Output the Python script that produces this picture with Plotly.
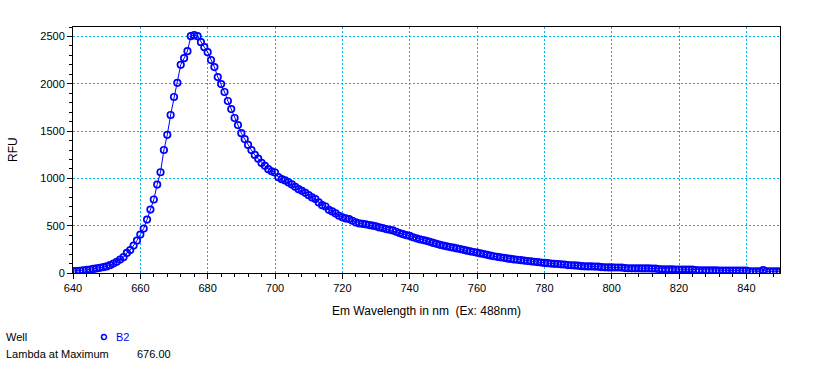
import plotly.graph_objects as go

# ---- data ----
wavelength_start = 640
wavelength_end = 850
wavelengths = list(range(wavelength_start, wavelength_end + 1))

rfu_640_676 = [20, 21, 24, 29, 33, 37, 43, 48, 55, 62,
               70, 83, 100, 118, 142, 167, 212, 242, 290, 343,
               406, 470, 565, 670, 777, 935, 1065, 1300, 1460, 1670,
               1860, 2010, 2200, 2270, 2345, 2503, 2514]
rfu_677_697 = [2503, 2440, 2387, 2334, 2250, 2176, 2071, 1997, 1913, 1818,
               1733, 1638, 1563, 1478, 1415, 1354, 1299, 1248, 1208, 1163,
               1133]
rfu_698_736 = [1097, 1075, 1062, 1013, 992, 978, 957, 936, 911, 886,
               869, 847, 823, 799, 781, 746, 717, 703, 668, 651,
               630, 605, 588, 577, 570, 552, 535, 524, 520, 514,
               507, 500, 493, 482, 475, 464, 457, 450, 436]
rfu_737_784 = [422, 410, 400, 392, 378, 366, 356, 348, 340, 330,
               318, 308, 298, 290, 282, 274, 268, 260, 253, 245,
               236, 229, 222, 215, 207, 200, 192, 184, 177, 171,
               166, 160, 154, 149, 144, 140, 136, 131, 127, 123,
               119, 115, 111, 107, 104, 100, 97, 95]
rfu_785_850 = [92, 90, 84, 82, 80, 77, 72, 71, 70, 69,
               68, 67, 62, 60, 59, 59, 58, 58, 57, 52,
               50, 49, 49, 49, 48, 48, 48, 47, 47, 42,
               39, 38, 38, 38, 37, 37, 37, 36, 36, 36,
               30, 28, 28, 27, 27, 27, 27, 26, 26, 26,
               26, 26, 26, 25, 25, 25, 18, 17, 17, 17,
               30, 18, 17, 17, 17, 17]
rfu = rfu_640_676 + rfu_677_697 + rfu_698_736 + rfu_737_784 + rfu_785_850

well_name = "B2"
lambda_max_text = "676.00"
x_title = "Em Wavelength in nm  (Ex: 488nm)"
y_title = "RFU"

# ---- layout geometry ----
W, H = 819, 391
ML, MR, MT, MB = 73, 39, 27, 118
PW, PH = W - ML - MR, H - MT - MB


def px(xp):
    return (xp - ML) / PW


def py(yp):
    return (H - MB - yp) / PH


BLUE = "#0000FF"
GRID = "#00AEEA"
FONT = "Liberation Sans, Arial, sans-serif"

fig = go.Figure()
fig.add_trace(go.Scatter(
    x=wavelengths, y=rfu, mode="lines+markers",
    line=dict(color=BLUE, width=1),
    marker=dict(symbol="circle-open", size=6.5, color=BLUE, line=dict(width=1.7, color=BLUE)),
    showlegend=False, hoverinfo="x+y",
))

axis_common = dict(
    showline=True, linecolor="black", linewidth=1, mirror=True,
    ticks="outside", ticklen=5, tickcolor="black", tickwidth=1,
    showgrid=True, gridcolor=GRID, griddash="2px,2px", gridwidth=1,
    zeroline=False, tickfont=dict(family=FONT, size=11, color="black"),
)

fig.update_xaxes(range=[640, 850], dtick=20, tick0=640,
                 minor=dict(dtick=4, ticklen=3, tickcolor="black", ticks="outside", showgrid=False),
                 **axis_common)
fig.update_yaxes(range=[0, 2600], dtick=500, tick0=0,
                 minor=dict(dtick=100, ticklen=3, tickcolor="black", ticks="outside", showgrid=False),
                 **axis_common)

annos = [
    dict(text=x_title, x=px(ML + PW / 2), y=py(311), xanchor="center", yanchor="middle",
         font=dict(size=12)),
    dict(text=y_title, x=px(13), y=py(150), xanchor="center", yanchor="middle",
         textangle=-90, font=dict(size=12)),
    dict(text="Well", x=px(4), y=py(337), xanchor="left", yanchor="middle", font=dict(size=11)),
    dict(text=well_name, x=px(114), y=py(337), xanchor="left", yanchor="middle",
         font=dict(size=11, color=BLUE)),
    dict(text="Lambda at Maximum", x=px(4), y=py(354), xanchor="left", yanchor="middle",
         font=dict(size=11)),
    dict(text=lambda_max_text, x=px(135), y=py(354), xanchor="left", yanchor="middle",
         font=dict(size=11)),
]
for a in annos:
    a.update(xref="paper", yref="paper", showarrow=False)
    a["font"].setdefault("color", "black")
    a["font"]["family"] = FONT

fig.update_layout(
    width=W, height=H,
    margin=dict(l=ML, r=MR, t=MT, b=MB, pad=0),
    paper_bgcolor="white", plot_bgcolor="white",
    annotations=annos,
    shapes=[dict(type="circle", xref="paper", yref="paper",
                 xsizemode="pixel", ysizemode="pixel",
                 xanchor=px(104), yanchor=py(337),
                 x0=-2.5, x1=2.5, y0=-2.5, y1=2.5,
                 line=dict(color=BLUE, width=1.5))],
    font=dict(family=FONT, color="black"),
)

fig.write_html("out.html",
               config={"displayModeBar": False},
               post_script="document.body.style.margin='0';document.body.style.overflow='hidden';")
